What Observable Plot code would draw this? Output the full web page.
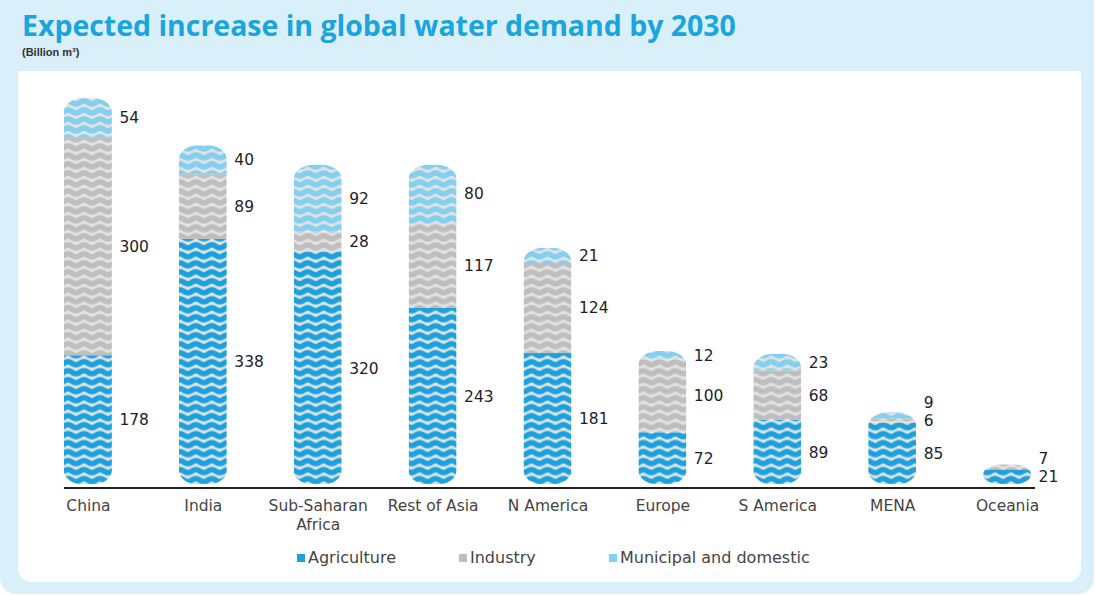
<!DOCTYPE html>
<html><head><meta charset="utf-8">
<script src="https://cdn.jsdelivr.net/npm/d3@7"></script>
<script src="https://cdn.jsdelivr.net/npm/@observablehq/plot@0.6"></script>
<style>
html,body{margin:0;padding:0;background:#fff;}
#wrap{position:relative;width:1094px;height:594px;background:#d9f0fa;border-radius:0 0 16px 16px;overflow:hidden;font-family:"DejaVu Sans",sans-serif;}
#title{position:absolute;left:22px;top:6px;font-family:"Open Sans",sans-serif;font-weight:700;font-size:30px;color:#1ba4de;white-space:nowrap;}
#sub{position:absolute;left:22px;top:46px;font-size:11px;font-weight:bold;color:#333;font-family:"Liberation Sans",sans-serif;}
#panel{position:absolute;left:18px;top:71px;width:1063px;height:511px;background:#fff;border-radius:0 0 14px 14px;}
#chart{position:absolute;left:0;top:71px;}
.lg{position:absolute;top:548px;font-size:16px;color:#444;white-space:nowrap;font-family:"DejaVu Sans",sans-serif;}
.lg i{display:inline-block;width:8px;height:8px;margin-right:3px;vertical-align:1px;}
</style></head>
<body>
<div id="wrap">
  <div id="title">Expected increase in global water demand by 2030</div>
  <div id="sub">(Billion m³)</div>
  <div id="panel"></div>
  <div id="chart"></div>
  <div id="legend"></div>
</div>
<script>
const regions = ["China", "India", "Sub-Saharan Africa", "Rest of Asia", "N America", "Europe", "S America", "MENA", "Oceania"];
const agriculture = [178, 338, 320, 243, 181, 72, 89, 85, 21];
const industry    = [300, 89, 28, 117, 124, 100, 68, 6, 7];
const municipal   = [54, 40, 92, 80, 21, 12, 23, 9, null];
const sectors = ["Agriculture", "Industry", "Municipal and domestic"];
const sectorColors = ["#1ba1dd", "#bebebe", "#82cfef"];
const legendX = [297, 459, 609];

const series = [agriculture, industry, municipal];
const rows = [];
regions.forEach((r, i) => series.forEach((s, k) => { if (s[i]) rows.push({region: r, sector: sectors[k], value: s[i]}); }));
const totals = regions.map((r, i) => ({region: r, total: d3.sum(series, s => s[i] || 0)}));

const W = 1095, H = 470, mTop = 27, mBottom = 56;
const yMax = d3.max(totals, d => d.total);
const pxPerUnit = (H - mBottom - mTop) / yMax;
const minGap = 18 / pxPerUnit;
const labels = [];
regions.forEach((r, i) => {
  let cum = 0, prev = -Infinity;
  series.forEach((s) => {
    const v = s[i]; if (!v) return;
    const pos = Math.max(cum + v / 2, prev + minGap);
    labels.push({region: r, value: v, pos});
    prev = pos; cum += v;
  });
});

const patternIds = ["pAgri", "pInd", "pMun"];
const chart = Plot.plot({
  width: W, height: H, marginTop: mTop, marginBottom: mBottom, marginLeft: 64, marginRight: 59,
  x: {domain: regions, range: [30.5, 1065.5], paddingInner: 0.58, paddingOuter: 0.29, label: null},
  y: {domain: [0, yMax], axis: null},
  color: {domain: sectors, range: patternIds.map(id => `url(#${id})`)},
  style: {fontFamily: "DejaVu Sans", fontSize: "15px", color: "#222", background: "transparent", overflow: "visible"},
  marks: [
    Plot.barY(totals, {x: "region", y: "total", rx: 20, ry: 14, fill: "#fff", ariaDescription: "pill"}),
    Plot.barY(rows, {x: "region", y: "value", fill: "sector", order: sectors, ariaDescription: "stack"}),
    Plot.ruleY([0], {dy: 3, strokeWidth: 2, stroke: "#222"}),
    Plot.axisX({tickSize: 0, tickPadding: 12, fontSize: 15.5, fill: "#444", lineHeight: 1.25, label: null,
      tickFormat: d => d === "Sub-Saharan Africa" ? "Sub-Saharan\nAfrica" : d}),
    Plot.text(labels, {x: "region", y: "pos", text: "value", dx: 31, textAnchor: "start", fill: "#1d1d28", fontSize: 15.5})
  ]
});

const ns = "http://www.w3.org/2000/svg";
const defs = document.createElementNS(ns, "defs");
patternIds.forEach((id, k) => {
  const p = document.createElementNS(ns, "pattern");
  p.setAttribute("id", id);
  p.setAttribute("patternUnits", "userSpaceOnUse");
  p.setAttribute("width", 16); p.setAttribute("height", 9);
  const bg = document.createElementNS(ns, "rect");
  bg.setAttribute("width", 16); bg.setAttribute("height", 9); bg.setAttribute("fill", "#e2e2e2");
  p.appendChild(bg);
  [-9, 0, 9].forEach(oy => {
    const path = document.createElementNS(ns, "path");
    path.setAttribute("d", `M-16,${4.5 + oy} Q-12,${1.5 + oy} -8,${4.5 + oy} T0,${4.5 + oy} T8,${4.5 + oy} T16,${4.5 + oy} T24,${4.5 + oy} T32,${4.5 + oy}`);
    path.setAttribute("fill", "none");
    path.setAttribute("stroke", sectorColors[k]);
    path.setAttribute("stroke-width", 5.5);
    p.appendChild(path);
  });
  defs.appendChild(p);
});
const bars = chart.querySelectorAll('g[aria-label="bar"]');
const pillG = chart.querySelector('g[aria-description="pill"]') || bars[0];
const stackG = chart.querySelector('g[aria-description="stack"]') || bars[1];
const clip = document.createElementNS(ns, "clipPath");
clip.setAttribute("id", "pillclip");
Array.from(pillG.querySelectorAll("rect, path")).forEach(el => clip.appendChild(el));
defs.appendChild(clip);
chart.insertBefore(defs, chart.firstChild);
pillG.remove();
stackG.setAttribute("clip-path", "url(#pillclip)");
document.getElementById("chart").appendChild(chart);

const legend = document.getElementById("legend");
sectors.forEach((s, k) => {
  const d = document.createElement("div");
  d.className = "lg";
  d.style.left = legendX[k] + "px";
  d.innerHTML = `<i style="background:${sectorColors[k]}"></i>${s}`;
  legend.appendChild(d);
});

// fit title width to the reference
const t = document.getElementById("title");
const w = t.getBoundingClientRect().width;
t.style.fontSize = (30 * 714 / w) + "px";
</script>
</body></html>
